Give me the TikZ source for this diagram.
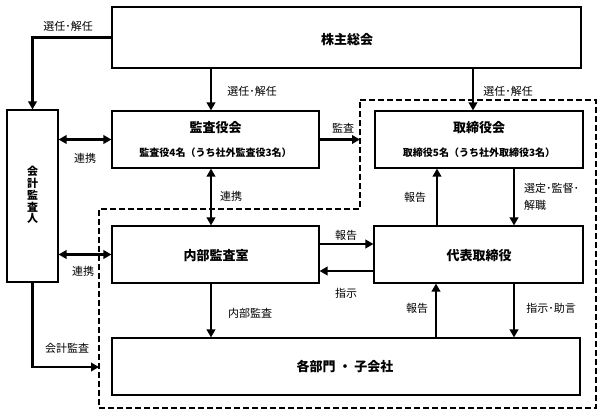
\documentclass[tikz,border=0pt]{standalone}
\usepackage{fontspec}
\setmainfont{Noto Sans CJK JP}
\usetikzlibrary{arrows.meta}
\tikzset{
  box/.style={draw, line width=1.1pt, inner sep=0pt, fill=white},
  ttl/.style={font=\bfseries\fontsize{13}{15}\selectfont, inner sep=0pt},
  sub/.style={font=\bfseries\fontsize{10}{12}\selectfont, inner sep=0pt},
  lbl/.style={font=\fontsize{11}{13}\selectfont, inner sep=0pt},
  arr/.style={line width=2.3pt, -{Triangle[length=8pt,width=8.5pt]}},
  darr/.style={line width=2.3pt, {Triangle[length=8pt,width=8.5pt]}-{Triangle[length=8pt,width=8.5pt]}},
  dashline/.style={line width=1.8pt, dash pattern=on 6pt off 3pt},
}
\begin{document}
\begin{tikzpicture}[x=1pt,y=-1pt]
\useasboundingbox (0,0) rectangle (604,417);
% boxes
\node[box, minimum width=469pt, minimum height=61pt] (sk) at (346.5,37.5) {};
\node[box, minimum width=207pt, minimum height=57pt] (ka) at (215.5,139.5) {};
\node[box, minimum width=208pt, minimum height=57pt] (tk) at (479,139.5) {};
\node[box, minimum width=51pt, minimum height=172pt] (kk) at (32.5,196) {};
\node[box, minimum width=207pt, minimum height=57pt] (nb) at (215.5,254.5) {};
\node[box, minimum width=209pt, minimum height=57pt] (dh) at (478.5,254.5) {};
\node[box, minimum width=468pt, minimum height=57pt] (kb) at (346,366.5) {};
% box texts
\node[ttl] (skt) at (347,40) {株主総会};
\node[ttl] (kat) at (215.5,128) {監査役会};
\node[sub] (kas) at (215.5,153) {監査役4名（うち社外監査役3名）};
\node[ttl] (tkt) at (479,128) {取締役会};
\node[sub] (tks) at (479,153) {取締役5名（うち社外取締役3名）};
\node[ttl, align=center, font=\bfseries\fontsize{11}{11.8}\selectfont] (kkt) at (32.5,195) {会\\計\\監\\査\\人};
\node[ttl] (nbt) at (216,256) {内部監査室};
\node[ttl] (dht) at (479,256) {代表取締役};
\node[ttl] (kbt) at (345,367) {各部門 ・ 子会社};
% dashed region
\coordinate (dA) at (360,139.5);
\coordinate (dB) at (99,367);
\draw[dashline] (360,100) -- (596,100) -- (596,408) -- (99,408) -- (99,209) -- (360,209) -- cycle;
% connectors
\draw[arr] (sk.west) -| (kk.north);
\draw[arr] (211,0 |- sk.south) -- (211,0 |- ka.north);
\draw[arr] (473,0 |- sk.south) -- (473,0 |- tk.north);
\draw[arr] (ka.east) -- (dA);
\draw[darr] (kk.east |- ka.west) -- (ka.west);
\draw[darr] (kk.east |- nb.west) -- (nb.west);
\draw[darr] (211,0 |- ka.south) -- (211,0 |- nb.north);
\draw[arr] (437,0 |- dh.north) -- (437,0 |- tk.south);
\draw[arr] (514,0 |- tk.south) -- (514,0 |- dh.north);
\draw[arr] (nb.east |- 0,244) -- (dh.west |- 0,244);
\draw[arr] (dh.west |- 0,271) -- (nb.east |- 0,271);
\draw[arr] (211,0 |- nb.south) -- (211,0 |- kb.north);
\draw[arr] (436,0 |- kb.north) -- (436,0 |- dh.south);
\draw[arr] (514,0 |- dh.south) -- (514,0 |- kb.north);
\draw[arr] (kk.south) |- (dB);
% labels
\node[lbl] (l1) at (68,26) {選任･解任};
\node[lbl] (l2) at (252,91) {選任･解任};
\node[lbl] (l3) at (508,91) {選任･解任};
\node[lbl] (l4) at (343,128) {監査};
\node[lbl] (l5) at (85,158) {連携};
\node[lbl] (l6) at (231,196) {連携};
\node[lbl] (l7) at (83,271) {連携};
\node[lbl] (l8) at (415,197) {報告};
\node[lbl, anchor=west] (l9) at (524,188) {選定･監督･};
\node[lbl, anchor=west] (l10) at (524,205) {解職};
\node[lbl] (l11) at (346,235) {報告};
\node[lbl] (l12) at (346,293) {指示};
\node[lbl] (l13) at (250,313) {内部監査};
\node[lbl] (l14) at (67,348) {会計監査};
\node[lbl] (l15) at (417,308) {報告};
\node[lbl] (l16) at (551,308) {指示･助言};
\end{tikzpicture}
\end{document}
